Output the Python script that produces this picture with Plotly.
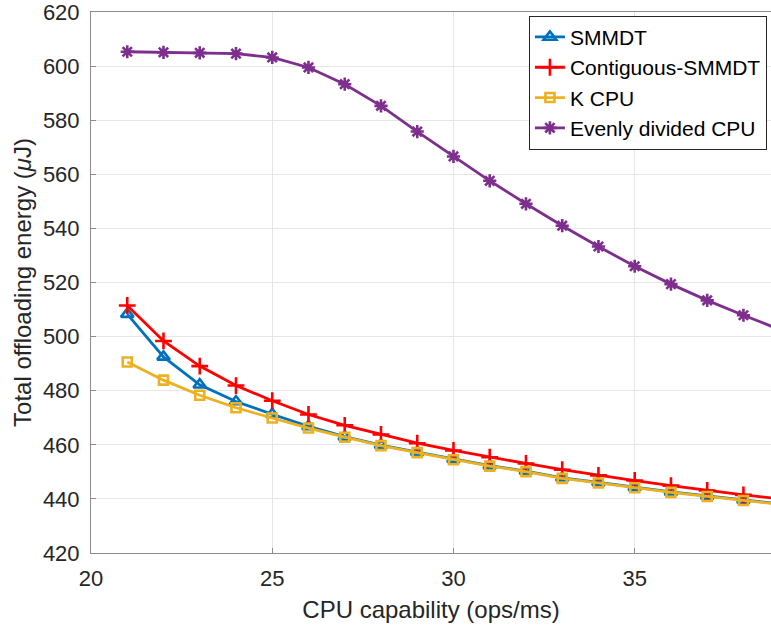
import plotly.graph_objects as go

cpu = [21, 22, 23, 24, 25, 26, 27, 28, 29, 30, 31, 32, 33, 34, 35, 36, 37, 38, 39]
smmdt = [508.3, 492.5, 482.2, 476.0, 471.3, 466.8, 463.0, 459.9, 457.3, 454.7, 452.3, 450.3, 447.8, 446.1, 444.3, 442.6, 441.1, 439.6, 438.2]
contiguous = [511.5, 498.4, 489.1, 481.9, 476.3, 471.2, 467.2, 463.8, 460.6, 457.9, 455.4, 453.1, 450.8, 448.7, 446.8, 444.9, 443.1, 441.5, 440.0]
kcpu = [490.6, 483.9, 478.3, 473.7, 469.9, 466.2, 462.8, 459.7, 457.1, 454.5, 452.1, 450.1, 447.6, 445.9, 444.1, 442.4, 440.9, 439.4, 438.0]
evenly = [605.3, 605.1, 604.9, 604.6, 603.2, 599.5, 593.3, 585.3, 575.8, 566.6, 557.6, 549.1, 541.0, 533.3, 526.0, 519.4, 513.4, 507.9, 502.6]

x_ticks = [20, 25, 30, 35]
y_ticks = [420, 440, 460, 480, 500, 520, 540, 560, 580, 600, 620]

series = [
    ("SMMDT", smmdt, "#0072BD", "triangle-up-open", 11),
    ("Contiguous-SMMDT", contiguous, "#FF0000", "cross-thin-open", 12),
    ("K CPU", kcpu, "#EDB120", "square-open", 9),
    ("Evenly divided CPU", evenly, "#7E2F8E", "asterisk-open", 11),
]

fig = go.Figure()
for name, vals, color, sym, size in series:
    fig.add_trace(go.Scatter(
        x=cpu, y=vals, name=name, mode="lines+markers",
        line=dict(color=color, width=2.8),
        marker=dict(symbol=sym, size=size, color=color,
                    line=dict(color=color, width=2.6)),
    ))

font_family = "Liberation Sans, Arial, Helvetica, sans-serif"
fig.update_layout(
    width=771, height=630,
    margin=dict(l=91, r=0, t=10, b=77),
    paper_bgcolor="white", plot_bgcolor="white",
    font=dict(family=font_family, size=21, color="#262626"),
    showlegend=True,
    legend=dict(
        x=0.994, y=0.993, xanchor="right", yanchor="top",
        bgcolor="white", bordercolor="#262626", borderwidth=1,
        font=dict(size=21, color="black"),
        tracegroupgap=0,
    ),
    xaxis=dict(
        range=[20, 38.76], tickvals=x_ticks, ticktext=[str(v) for v in x_ticks],
        showgrid=True, gridcolor="#e6e6e6", gridwidth=1,
        showline=True, linecolor="#8c8c8c", linewidth=1, mirror=True,
        ticks="inside", ticklen=5, tickcolor="#8c8c8c",
        zeroline=False, ticklabelstandoff=6, ticklabeloverflow="allow",
        title=dict(text="CPU capability (ops/ms)", font=dict(size=24, color="#262626"), standoff=10),
        tickfont=dict(size=22, color="#262626"),
    ),
    yaxis=dict(
        range=[420, 620], tickvals=y_ticks, ticktext=[str(v) for v in y_ticks],
        showgrid=True, gridcolor="#e6e6e6", gridwidth=1,
        showline=True, linecolor="#8c8c8c", linewidth=1,
        ticks="inside", ticklen=5, tickcolor="#8c8c8c",
        zeroline=False, ticklabelstandoff=6, ticklabeloverflow="allow",
        title=dict(text="Total offloading energy (<i>μ</i>J)", font=dict(size=24, color="#262626"), standoff=4),
        tickfont=dict(size=22, color="#262626"),
    ),
)

fig.write_html(
    "out.html",
    config={"displayModeBar": False},
    post_script="document.body.style.margin='0';document.body.style.overflow='hidden';",
)
